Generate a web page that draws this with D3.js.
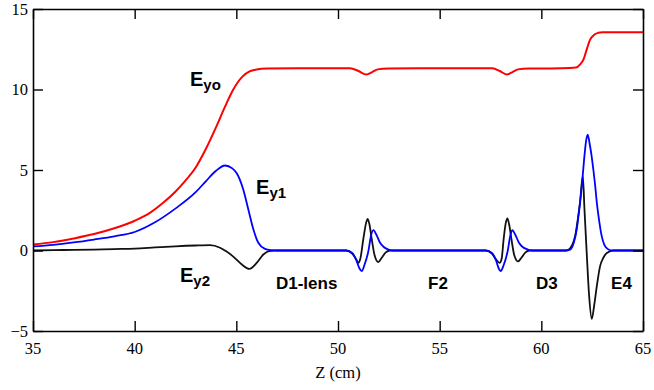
<!DOCTYPE html>
<html>
<head>
<meta charset="utf-8">
<script src="https://cdn.jsdelivr.net/npm/d3@7"></script>
<style>
  html, body { margin: 0; padding: 0; background: #fff; }
  svg { display: block; }
</style>
</head>
<body>
<svg id="chart" width="654" height="390"></svg>
<script>
// ---- data ----
const xTicks = [35, 40, 45, 50, 55, 60, 65];
const yTicks = [-5, 0, 5, 10, 15];
const yTickLabels = ["\u22125", "0", "5", "10", "15"];
const xTitle = "Z (cm)";

// Ey0 (red) : [z, value]
const eyo = [
  [35, 0.37], [36, 0.52], [37, 0.75], [38, 1.02], [39, 1.38], [40, 1.85],
  [40.75, 2.34], [41.4, 2.96], [42, 3.65], [42.4, 4.2], [43, 5.15],
  [43.5, 6.3], [44, 7.65], [44.45, 8.95], [44.85, 10.0], [45.3, 10.8],
  [45.65, 11.12], [46, 11.24], [46.5, 11.3], [48, 11.32], [50.6, 11.32],
  [51.0, 11.15], [51.4, 10.93], [51.7, 11.1], [51.95, 11.25], [52.5, 11.3],
  [54, 11.32], [57.6, 11.32], [57.95, 11.15], [58.3, 10.93], [58.6, 11.1],
  [58.85, 11.25], [59.4, 11.3], [61, 11.32], [61.7, 11.36], [61.9, 11.55],
  [62.07, 11.86], [62.23, 12.48], [62.4, 13.1], [62.6, 13.4], [62.8, 13.52],
  [63, 13.56], [65, 13.56]
];

// Ey1 (blue)
const ey1 = [
  [35, 0.25], [36, 0.35], [37, 0.5], [38, 0.68], [39, 0.88], [40, 1.15],
  [41, 1.75], [42, 2.6], [43, 3.62], [43.5, 4.3], [44, 4.95], [44.44, 5.28],
  [44.8, 5.1], [45.02, 4.8], [45.34, 3.79], [45.59, 2.55], [45.84, 1.3],
  [46.08, 0.48], [46.41, 0.1], [46.7, 0.02], [47, 0],
  [50.4, 0], [50.7, -0.15], [50.9, -0.6], [51.05, -1.1], [51.17, -1.28],
  [51.3, -0.9], [51.5, 0], [51.62, 0.9], [51.74, 1.26], [51.9, 0.95],
  [52.07, 0.48], [52.25, 0.22], [52.4, 0.1], [52.7, 0],
  [57.27, 0], [57.57, -0.15], [57.77, -0.6], [57.9, -1.1], [58.0, -1.28],
  [58.15, -0.9], [58.35, 0], [58.47, 0.9], [58.57, 1.26], [58.73, 0.95],
  [58.9, 0.48], [59.08, 0.22], [59.25, 0.1], [59.55, 0],
  [61.2, 0], [61.41, 0.05], [61.6, 0.5], [61.74, 1.3], [61.87, 2.6],
  [61.99, 4.0], [62.1, 5.6], [62.2, 6.8], [62.28, 7.2], [62.38, 6.6],
  [62.47, 5.9], [62.56, 5.0], [62.65, 4.0], [62.73, 2.96], [62.85, 1.8],
  [62.97, 0.89], [63.1, 0.35], [63.3, 0.06], [63.5, 0], [65, 0]
];

// Ey2 (black)
const ey2 = [
  [35, 0.0], [36, 0.02], [37, 0.04], [38, 0.06], [39, 0.09], [40, 0.12],
  [41, 0.19], [42, 0.26], [43, 0.31], [43.7, 0.33], [44.2, 0.17],
  [44.5, -0.05], [44.85, -0.38], [45.27, -0.87], [45.64, -1.14],
  [46.0, -0.77], [46.33, -0.25], [46.6, -0.04], [46.9, 0],
  [50.4, 0], [50.7, -0.2], [50.9, -0.55], [51.0, -0.77], [51.1, -0.5],
  [51.25, 0.75], [51.38, 1.7], [51.46, 1.97], [51.55, 1.6], [51.66, 0.7],
  [51.8, -0.3], [51.98, -0.72], [52.15, -0.45], [52.35, -0.12], [52.56, 0],
  [57.27, 0], [57.57, -0.2], [57.77, -0.55], [57.95, -0.77], [58.05, -0.5],
  [58.15, 0.75], [58.25, 1.7], [58.33, 2.0], [58.42, 1.6], [58.53, 0.7],
  [58.67, -0.3], [58.85, -0.68], [59.02, -0.45], [59.22, -0.12], [59.43, 0],
  [61.1, 0], [61.3, 0.03], [61.5, 0.3], [61.66, 0.89], [61.8, 2.0],
  [61.9, 2.96], [62.04, 4.62], [62.12, 2.6], [62.23, -0.1], [62.35, -2.8],
  [62.48, -4.25], [62.6, -3.4], [62.73, -2.2], [62.89, -0.97],
  [63.05, -0.45], [63.22, -0.15], [63.55, 0], [65, 0]
];

// annotations: [text-main, subscript, z, value]
const seriesLabels = [
  ["E", "yo", 42.72, 10.2],
  ["E", "y1", 45.97, 3.5],
  ["E", "y2", 42.23, -1.93]
];
const lensLabels = [
  ["D1-lens", 46.95, -2.42],
  ["F2", 54.43, -2.42],
  ["D3", 59.74, -2.42],
  ["E4", 63.43, -2.42]
];

// ---- drawing ----
const svg = d3.select("#chart");
const m = { left: 33, right: 643, top: 9, bottom: 331 };
const x = d3.scaleLinear().domain([35, 65]).range([m.left, m.right]);
const y = d3.scaleLinear().domain([-5, 15]).range([m.bottom, m.top]);

const SERIF = "Liberation Serif";
const SANS = "Liberation Sans";

const line = d3.line()
  .x(d => x(d[0])).y(d => y(d[1]))
  .curve(d3.curveMonotoneX);

const plot = svg.append("g");
plot.append("path").datum(eyo).attr("d", line)
  .attr("fill", "none").attr("stroke", "#ff0000").attr("stroke-width", 2);
plot.append("path").datum(ey2).attr("d", line)
  .attr("fill", "none").attr("stroke", "#111").attr("stroke-width", 1.8);
plot.append("path").datum(ey1).attr("d", line)
  .attr("fill", "none").attr("stroke", "#0000ff").attr("stroke-width", 1.8);

// axes (inward ticks on all four sides)
const tl = 10;
const axB = d3.axisBottom(x).tickValues(xTicks).tickSizeInner(-tl).tickSizeOuter(0).tickFormat("");
const axT = d3.axisTop(x).tickValues(xTicks).tickSizeInner(-tl).tickSizeOuter(0).tickFormat("");
const axL = d3.axisLeft(y).tickValues(yTicks).tickSizeInner(-tl).tickSizeOuter(0).tickFormat("");
const axR = d3.axisRight(y).tickValues(yTicks).tickSizeInner(-tl).tickSizeOuter(0).tickFormat("");

function styleAxis(g) {
  g.select(".domain").attr("stroke", "#000").attr("stroke-width", 1.6);
  g.selectAll(".tick line").attr("stroke", "#000").attr("stroke-width", 1.4);
}
svg.append("g").attr("transform", `translate(0,${m.bottom})`).call(axB).call(styleAxis);
svg.append("g").attr("transform", `translate(0,${m.top})`).call(axT).call(styleAxis);
svg.append("g").attr("transform", `translate(${m.left},0)`).call(axL).call(styleAxis);
svg.append("g").attr("transform", `translate(${m.right},0)`).call(axR).call(styleAxis);

// tick labels
svg.append("g").selectAll("text").data(xTicks).join("text")
  .attr("x", d => x(d)).attr("y", 354)
  .attr("text-anchor", "middle")
  .attr("font-family", SERIF).attr("font-size", 16.5).attr("fill", "#000")
  .text(d => String(d));
svg.append("g").selectAll("text").data(yTicks).join("text")
  .attr("x", 28).attr("y", d => y(d)).attr("dy", "0.35em")
  .attr("text-anchor", "end")
  .attr("font-family", SERIF).attr("font-size", 16.5).attr("fill", "#000")
  .text((d, i) => yTickLabels[i]);

svg.append("text")
  .attr("x", x(50)).attr("y", 378)
  .attr("text-anchor", "middle")
  .attr("font-family", SERIF).attr("font-size", 16.5).attr("fill", "#000")
  .text(xTitle);

// series labels with subscripts
seriesLabels.forEach(s => {
  const t = svg.append("text")
    .attr("x", x(s[2])).attr("y", y(s[3]))
    .attr("font-family", SANS).attr("font-weight", "bold")
    .attr("fill", "#000");
  t.append("tspan").attr("font-size", 20).text(s[0]);
  t.append("tspan").attr("font-size", 15).attr("dy", 4).text(s[1]);
});

// lens labels
svg.append("g").selectAll("text").data(lensLabels).join("text")
  .attr("x", d => x(d[1])).attr("y", d => y(d[2]))
  .attr("font-family", SANS).attr("font-weight", "bold")
  .attr("font-size", 17).attr("fill", "#000")
  .text(d => d[0]);
</script>
</body>
</html>
